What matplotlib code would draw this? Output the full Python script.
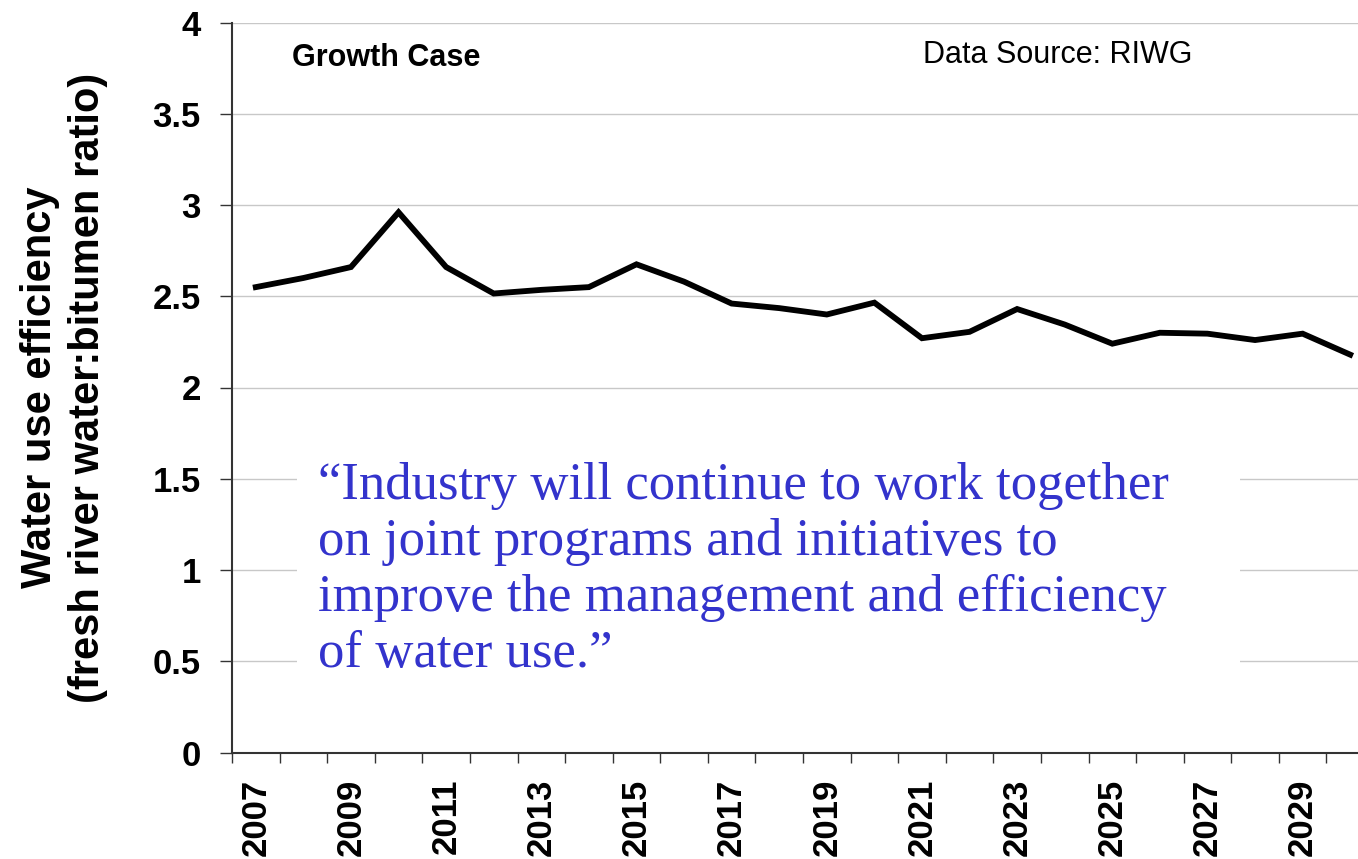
import matplotlib
matplotlib.use("Agg")
import matplotlib.pyplot as plt
from matplotlib.patches import Rectangle

plt.rcParams["font.family"] = ["Liberation Sans", "DejaVu Sans"]

years = list(range(2007, 2031))
ratio = [2.55, 2.60, 2.66, 2.96, 2.66, 2.515, 2.535, 2.55, 2.675, 2.58,
         2.46, 2.435, 2.40, 2.465, 2.27, 2.305, 2.43, 2.345, 2.24, 2.30,
         2.295, 2.26, 2.295, 2.18]
y_ticks = [0, 0.5, 1, 1.5, 2, 2.5, 3, 3.5, 4]
y_labels = ["0", "0.5", "1", "1.5", "2", "2.5", "3", "3.5", "4"]

quote = ("\u201cIndustry will continue to work together\n"
         "on joint programs and initiatives to\n"
         "improve the management and efficiency\n"
         "of water use.\u201d")

W, H = 1358, 859
fig = plt.figure(figsize=(W / 100, H / 100), dpi=100)
ax = fig.add_axes([232 / W, (H - 752.5) / H, (1374 - 232) / W, 730 / H])

x = list(range(len(years)))
ax.plot(x, ratio, color="black", lw=4.2, solid_joinstyle="miter", zorder=4)

ax.set_xlim(-0.5, len(years) - 0.5)
ax.set_ylim(0, 4)

# gridlines
ax.set_yticks(y_ticks)
ax.set_yticklabels(y_labels, fontsize=25, fontweight="bold")
ax.yaxis.grid(True, color="#c8c8c8", lw=1.0, zorder=0)
ax.set_axisbelow(True)
ax.tick_params(axis="y", direction="out", length=8.5, width=1.0, pad=14, color="#333333")

# category axis: tick marks between categories, labels every other year
ax.set_xticks([i - 0.5 for i in range(len(years) + 1)])
ax.set_xticklabels([])
ax.tick_params(axis="x", which="major", direction="out", length=7, width=1.0, color="#333333")
ax.set_xticks(x[::2], minor=True)
ax.set_xticklabels([str(y) for y in years[::2]], minor=True, rotation=90,
                   fontsize=25, fontweight="bold")
ax.tick_params(axis="x", which="minor", length=0, pad=19)

for s in ["top", "right"]:
    ax.spines[s].set_visible(False)
for s in ["left", "bottom"]:
    ax.spines[s].set_color("#333333")
    ax.spines[s].set_linewidth(1.5)

ax.set_ylabel("Water use efficiency\n(fresh river water:bitumen ratio)",
              fontsize=30, fontweight="bold", linespacing=1.25)
ax.yaxis.set_label_coords(-0.147, 0.5)
ax.yaxis.label.set_va("center")

ax.text(0.0525, 0.951, "Growth Case", transform=ax.transAxes, fontsize=22,
        fontweight="bold", ha="left", va="center")
ax.text(0.605, 0.9555, "Data Source: RIWG", transform=ax.transAxes, fontsize=22,
        ha="left", va="center")

ax.add_patch(Rectangle((0.0569, 0.072), 0.8258, 0.349, transform=ax.transAxes,
                       facecolor="white", edgecolor="none", zorder=2))
ax.text(0.0753, 0.1171, quote, transform=ax.transAxes, fontsize=38,
        family="Liberation Serif", color="#3333cc", ha="left", va="baseline",
        linespacing=1.22, zorder=3)

fig.savefig("out.png", dpi=100)
